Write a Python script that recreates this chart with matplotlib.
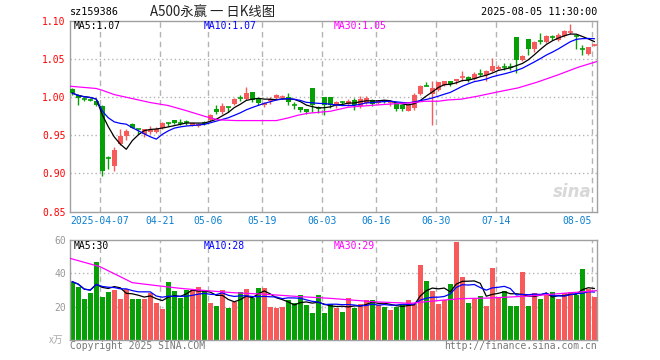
import numpy as np
import pandas as pd
import matplotlib
matplotlib.use('Agg')
import matplotlib.pyplot as plt
from matplotlib.transforms import blended_transform_factory

# daily candles, 2025-03-28 .. 2025-08-05
opens = np.array([
    1.010, 1.0026, 0.998, 0.9968, 0.995, 0.9887, 0.921, 0.909, 0.9385, 0.9494,
    0.965, 0.958, 0.9516, 0.954, 0.9537, 0.9594, 0.9656, 0.970, 0.966, 0.967,
    0.963, 0.9625, 0.9662, 0.9695, 0.9847, 0.9803, 0.9874, 0.9913, 0.9988, 0.9978,
    1.007, 0.9974, 0.989, 0.9943, 0.9987, 1.000, 1.000, 0.9892, 0.9873, 0.9843,
    1.011, 0.9857, 1.0005, 1.0005, 0.989, 0.993, 0.9908, 0.9965, 0.9878, 0.9926,
    0.996, 0.9921, 0.9945, 0.992, 0.9917, 0.989, 0.982, 0.9856, 1.004, 1.0144,
    1.004, 1.0096, 1.0153, 1.0205, 1.0205, 1.0253, 1.0258, 1.024, 1.0302, 1.0284,
    1.0336, 1.0366, 1.0389, 1.0389, 1.078, 1.0489, 1.0763, 1.0633, 1.0738, 1.0716,
    1.0782, 1.0742, 1.0794, 1.0847, 1.0796, 1.0634, 1.0563, 1.068])
highs = np.array([
    1.011, 1.004, 1.000, 0.999, 0.996, 0.990, 0.922, 0.934, 0.9585, 0.9585,
    0.966, 0.958, 0.9585, 0.962, 0.960, 0.9677, 0.9677, 0.970, 0.971, 0.970,
    0.966, 0.966, 0.969, 0.9778, 0.990, 0.992, 0.9874, 0.998, 1.002, 1.0127,
    1.007, 0.9974, 0.9935, 0.9996, 1.004, 1.002, 1.005, 0.9935, 0.9873, 0.9843,
    1.011, 0.988, 1.0005, 1.0005, 0.9943, 0.995, 0.9978, 0.9987, 1.0017, 1.0009,
    0.997, 0.9965, 0.996, 0.9945, 0.9917, 0.989, 0.9908, 1.0048, 1.016, 1.0196,
    1.0214, 1.0192, 1.0214, 1.0205, 1.024, 1.0336, 1.027, 1.032, 1.037, 1.0358,
    1.051, 1.0423, 1.045, 1.045, 1.078, 1.0554, 1.0763, 1.0737, 1.0838, 1.0816,
    1.0816, 1.0838, 1.088, 1.096, 1.0816, 1.0677, 1.0655, 1.0686])
lows = np.array([
    1.003, 0.990, 0.995, 0.994, 0.988, 0.896, 0.906, 0.9036, 0.9367, 0.944,
    0.959, 0.951, 0.947, 0.951, 0.953, 0.958, 0.9625, 0.964, 0.963, 0.9638,
    0.962, 0.961, 0.9637, 0.968, 0.9777, 0.977, 0.9803, 0.989, 0.995, 0.996,
    0.9935, 0.990, 0.9865, 0.9908, 0.997, 0.9987, 0.990, 0.9847, 0.980, 0.977,
    0.980, 0.979, 0.976, 0.985, 0.9856, 0.990, 0.9878, 0.9834, 0.9856, 0.9908,
    0.988, 0.991, 0.9917, 0.988, 0.982, 0.982, 0.981, 0.9834, 1.003, 1.0144,
    0.9638, 1.008, 1.014, 1.0144, 1.0175, 1.0205, 1.0196, 1.0227, 1.027, 1.0205,
    1.0327, 1.035, 1.035, 1.035, 1.0314, 1.0475, 1.0554, 1.0589, 1.0694, 1.0703,
    1.0742, 1.073, 1.078, 1.082, 1.0624, 1.0545, 1.0554, 1.066])
closes = np.array([
    1.005, 0.9987, 0.997, 0.9962, 0.989, 0.9027, 0.920, 0.930, 0.9494, 0.955,
    0.9594, 0.9578, 0.9577, 0.957, 0.958, 0.9655, 0.9654, 0.966, 0.9657, 0.9665,
    0.9655, 0.965, 0.966, 0.9769, 0.9803, 0.9878, 0.9872, 0.9978, 0.9986, 1.0057,
    0.996, 0.9926, 0.9926, 0.9978, 1.003, 1.0005, 0.9935, 0.989, 0.9834, 0.9803,
    0.990, 0.9855, 0.990, 0.989, 0.993, 0.9928, 0.995, 0.990, 0.9978, 0.9991,
    0.9913, 0.996, 0.9943, 0.994, 0.9847, 0.9847, 0.990, 1.0022, 1.0148, 1.0143,
    1.011, 1.0192, 1.0205, 1.0175, 1.024, 1.0258, 1.0218, 1.0305, 1.030, 1.0336,
    1.040, 1.0392, 1.0387, 1.0387, 1.048, 1.054, 1.0633, 1.0716, 1.0736, 1.0803,
    1.078, 1.0816, 1.086, 1.0855, 1.0794, 1.0632, 1.0655, 1.0685])
volumes = np.array([
    35, 32, 24.6, 28.2, 47, 26, 28.8, 30.2, 24.6, 30.4,
    24.6, 24.6, 24.6, 28, 22.2, 18.8, 34.8, 29.4, 25.4, 30,
    30, 31.8, 29.6, 22.2, 20.4, 30, 19.4, 22.6, 28.8, 30.6,
    25.4, 31.2, 31.2, 19.8, 19.2, 19.8, 24.2, 22, 27, 21.2,
    16.2, 27, 16.2, 21.8, 19.4, 16.8, 25, 19.2, 21.6, 24,
    24, 21, 19.8, 18.2, 20, 21.6, 24, 21.6, 45, 35.6,
    29.6, 21.6, 24, 33.6, 59, 37.8, 22, 24.8, 26.4, 20.4,
    43.2, 25.2, 29.6, 20.4, 20.4, 41, 20.4, 28.2, 24.6, 27,
    28.8, 24.6, 28, 28.8, 27, 42.6, 30.4, 25.8])

# 30-day averages (index, value)
ma30_idx = [-0.4, 4, 5, 7, 10, 13, 16, 19, 21.5, 22, 24.3, 27.3, 34, 36, 37.6, 39.3,
            43, 46, 50, 53.7, 57, 58.7, 61, 62.6, 64.8, 67.6, 70.9, 74.3, 77.6, 81,
            84.3, 87.6]
ma30_val = [1.014, 1.011, 1.0087, 1.003, 0.9978, 0.9926, 0.9887, 0.982, 0.976, 0.9747,
            0.970, 0.969, 0.969, 0.9725, 0.976, 0.9786, 0.9812, 0.9865, 0.989, 0.991,
            0.9926, 0.9943, 0.9943, 0.996, 0.997, 1.001, 1.0065, 1.0118, 1.0196, 1.029,
            1.0388, 1.0467]
vma30_idx = [-0.4, 4.6, 8, 10, 14.6, 18, 22.4, 26.8, 32.4, 38, 43, 50, 56.4, 59, 64.6,
             69.6, 76.3, 81.8, 87.4]
vma30_val = [49, 44, 38, 34.4, 32.4, 31, 29.6, 28.4, 27.4, 26, 25, 23, 22, 23, 24.8,
             25.2, 26.4, 28, 29.6]

grid_idx = [5, 15, 23, 32, 42, 51, 61, 71, 87]
grid_lbl = ['2025-04-07', '04-21', '05-06', '05-19', '06-03', '06-16', '06-30', '07-14', '08-05']

RED = '#f75a5a'
GREEN = '#06a006'
MONO = 'DejaVu Sans Mono'
GRID = '#b4b4b4'

W, H = 660, 360
fig = plt.figure(figsize=(6.6, 3.6), dpi=100)


def px_axes(x0, y0, x1, y1):
    return fig.add_axes([x0 / W, 1 - y1 / H, (x1 - x0) / W, (y1 - y0) / H])


ax = px_axes(70, 20.5, 597, 211.5)
axv = px_axes(70, 240, 597, 340)

x = np.arange(len(closes))
up = closes >= opens
cols = np.where(up, RED, GREEN)
body_lo = np.minimum(opens, closes)
body_h = np.abs(closes - opens)
doji = body_h < 0.0012
xlim = (-0.38, 87.45)

for a in (ax, axv):
    a.set_xlim(*xlim)
    for s in a.spines.values():
        s.set_color('#a0a0a0')
        s.set_linewidth(1)
    a.set_xticks([])
    a.tick_params(axis='y', length=0, pad=3, labelsize=7)
    for g in grid_idx:
        a.axvline(g - 0.4, color=GRID, lw=1, ls=(0, (4, 3)), zorder=0)

# price panel
ax.set_ylim(0.85, 1.10)
for v in [0.90, 0.95, 1.00, 1.05]:
    ax.axhline(v, color=GRID, lw=1, ls=(0, (1, 2)), zorder=0)
ax.vlines(x, lows, highs, colors=cols, lw=1, zorder=2)
ax.bar(x[~doji], body_h[~doji], 0.8, bottom=body_lo[~doji], color=cols[~doji], lw=0, zorder=3)
ax.hlines(closes[doji], x[doji] - 0.4, x[doji] + 0.4, colors=cols[doji], lw=1.2, zorder=3)

ma5 = pd.Series(closes).rolling(5, min_periods=1).mean()
ma10 = pd.Series(closes).rolling(10, min_periods=1).mean()
ax.plot(x, ma5, color='black', lw=0.9, zorder=4)
ax.plot(x, ma10, color='blue', lw=0.9, zorder=4)
ax.plot(ma30_idx, ma30_val, color='magenta', lw=0.9, zorder=4)

yt = [0.85, 0.90, 0.95, 1.00, 1.05, 1.10]
ax.set_yticks(yt)
ax.set_yticklabels(['%.2f' % v for v in yt], color='red', family=MONO)

tr = blended_transform_factory(ax.transData, ax.transAxes)
for g, lbl in zip(grid_idx, grid_lbl):
    if g == grid_idx[0]:
        ax.text(xlim[0], -0.05, lbl, transform=tr, ha='left', va='center',
                color='#0a7fd0', fontsize=7, family=MONO)
    elif g == grid_idx[-1]:
        ax.text(g - 0.4, -0.05, lbl, transform=tr, ha='right', va='center',
                color='#0a7fd0', fontsize=7, family=MONO)
    else:
        ax.text(g - 0.4, -0.05, lbl, transform=tr, ha='center', va='center',
                color='#0a7fd0', fontsize=7, family=MONO)

ax.text(0.99, 0.1, 'sina', transform=ax.transAxes, ha='right', va='center',
        fontsize=12, style='italic', weight='bold', color='#d8d8d8', zorder=1)

# volume panel
axv.set_ylim(0, 60)
for v in [20, 40]:
    axv.axhline(v, color=GRID, lw=1, ls=(0, (1, 2)), zorder=0)
axv.bar(x, volumes, 0.8, color=cols, lw=0, zorder=2)
vma5 = pd.Series(volumes).rolling(5, min_periods=1).mean()
vma10 = pd.Series(volumes).rolling(10, min_periods=1).mean()
axv.plot(x, vma5, color='black', lw=0.9, zorder=4)
axv.plot(x, vma10, color='blue', lw=0.9, zorder=4)
axv.plot(vma30_idx, vma30_val, color='magenta', lw=0.9, zorder=4)
axv.set_yticks([20, 40, 60])
axv.set_yticklabels(['20', '40', '60'], color='#999999', family=MONO)


def ftext(px, py, s, **kw):
    kw.setdefault('family', MONO)
    kw.setdefault('fontsize', 7)
    kw.setdefault('va', 'center')
    fig.text(px / W, 1 - py / H, s, **kw)


ftext(70, 12, 'sz159386', color='black', fontsize=7.3)
ftext(150, 12, 'A500永赢 一 日K线图', color='#222222', fontsize=9.6,
      family=['Noto Sans CJK SC', 'DejaVu Sans'])
ftext(597, 12, '2025-08-05 11:30:00', color='black', fontsize=7.3, ha='right')
ftext(74, 26, 'MA5:1.07', color='black')
ftext(204, 26, 'MA10:1.07', color='blue')
ftext(334, 26, 'MA30:1.05', color='magenta')
ftext(74, 246, 'MA5:30', color='black')
ftext(204, 246, 'MA10:28', color='blue')
ftext(334, 246, 'MA30:29', color='magenta')
ftext(49, 340, 'x万', color='#aaaaaa', family=['Noto Sans CJK SC', 'DejaVu Sans'], fontsize=7)
ftext(70, 346, 'Copyright 2025 SINA.COM', color='#777777')
ftext(597, 346, 'http://finance.sina.com.cn', color='#777777', ha='right')

fig.savefig('out.png', dpi=100)
